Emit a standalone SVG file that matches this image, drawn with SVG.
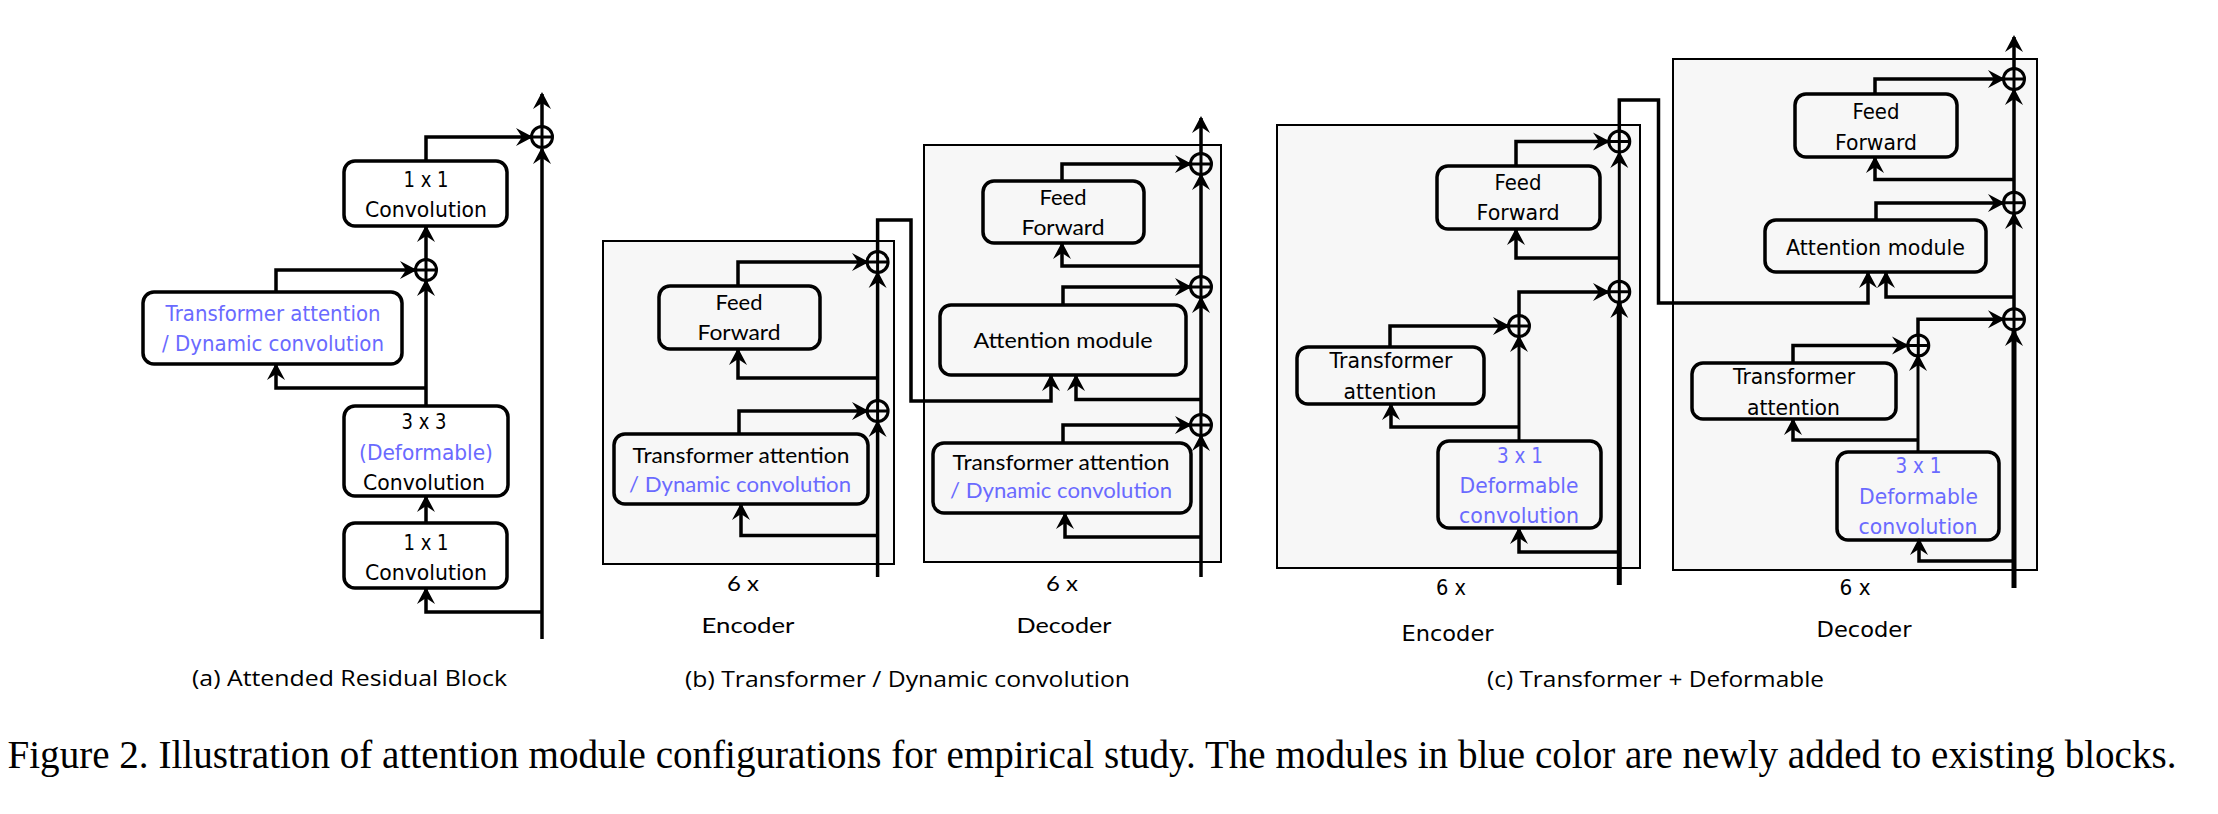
<svg xmlns="http://www.w3.org/2000/svg" width="2218" height="814" viewBox="0 0 2218 814">
<style>
.bg{fill:#fff}
.cont{fill:#f7f7f7;stroke:#000;stroke-width:2}
.nodeA{fill:#fff;stroke:#000;stroke-width:3.5}
.node{fill:none;stroke:#000;stroke-width:3.5}
.ln{fill:none;stroke:#000;stroke-width:3.5;stroke-linejoin:miter;marker-end:url(#ah)}
.thick{stroke-width:5}
.thin{stroke-width:3}
.sum{fill:none;stroke:#000;stroke-width:3}
.ta{font-family:"DejaVu Sans",Verdana,sans-serif;font-size:20.5px;text-anchor:middle;fill:#000}
.tc{font-family:"DejaVu Sans",Verdana,sans-serif;font-size:20.5px;text-anchor:middle;fill:#000}
.tb{font-family:Lato,"Liberation Sans",sans-serif;font-size:22px;text-anchor:middle;fill:#000}
.blue{fill:#6a6aff}
.cap{font-family:"Open Sans","DejaVu Sans",sans-serif;font-size:22px;fill:#000}
.fig{font-family:"Liberation Serif","Times New Roman",serif;font-size:39px;fill:#000}
</style>
<defs>
<marker id="ah" markerUnits="userSpaceOnUse" markerWidth="24" markerHeight="24" viewBox="-18 -12 22 24" refX="0" refY="0" orient="auto">
<path d="M2,0 L-15,-9 L-9,0 L-15,9 Z" fill="#000"/>
</marker>
<g id="plus"><circle cx="0" cy="0" r="10.5" class="sum"/><path d="M-10.5,0H10.5M0,-10.5V10.5" class="sum"/></g>
</defs>
<rect class="bg" x="0" y="0" width="2218" height="814"/>

<!-- containers -->
<g id="containers">
<rect class="cont" x="603" y="241" width="291" height="323"/>
<rect class="cont" x="924" y="145" width="297" height="417"/>
<rect class="cont" x="1277" y="125" width="363" height="443"/>
<rect class="cont" x="1673" y="59" width="364" height="511"/>
</g>

<!-- connectors -->
<g id="connectors">
<!-- panel a -->
<path class="ln" d="M542,639V149"/>
<path class="ln" d="M542,126V94"/>
<path class="ln" d="M542,612H426V589"/>
<path class="ln" d="M426,523V497"/>
<path class="ln" d="M426,406V281"/>
<path class="ln" d="M426,388H276V365"/>
<path class="ln" d="M276,292V270H415"/>
<path class="ln" d="M426,259.5V227"/>
<path class="ln" d="M426,161V137H531"/>
<!-- panel b encoder -->
<path class="ln" d="M877.6,577V422"/>
<path class="ln" d="M877.6,401V273"/>
<path class="ln" d="M877.6,251V220H911V401H1051V376"/>
<path class="ln" d="M877.6,378H738V350"/>
<path class="ln" d="M738,286V262H867"/>
<path class="ln" d="M877.6,535.5H741V505"/>
<path class="ln" d="M739,434V411H867"/>
<!-- panel b decoder -->
<path class="ln" d="M1201,577V436"/>
<path class="ln" d="M1201,414V298"/>
<path class="ln" d="M1201,276V175"/>
<path class="ln" d="M1201,153V118"/>
<path class="ln" d="M1201,537H1065V514"/>
<path class="ln" d="M1063,443V425H1190"/>
<path class="ln" d="M1201,399.4H1076V376"/>
<path class="ln" d="M1063,305V287H1190"/>
<path class="ln" d="M1201,266H1062V244"/>
<path class="ln" d="M1062,181V164H1190"/>
<!-- panel c encoder -->
<path class="ln thick" d="M1619.3,585V303"/>
<path class="ln thin" d="M1619.3,281V153"/>
<path class="ln" d="M1619.3,131V100H1658.5V303H1868V273"/>
<path class="ln" d="M1619.3,258H1516V230"/>
<path class="ln" d="M1516,166V141.6H1608"/>
<path class="ln" d="M1619.3,552H1519V529"/>
<path class="ln thin" d="M1519,441V337"/>
<path class="ln" d="M1519,427H1391V405"/>
<path class="ln" d="M1390,347V326H1508"/>
<path class="ln" d="M1519,315V292H1608"/>
<!-- panel c decoder -->
<path class="ln thick" d="M2014,588V331"/>
<path class="ln" d="M2014,308V214"/>
<path class="ln" d="M2014,192V90"/>
<path class="ln" d="M2014,68V37"/>
<path class="ln" d="M2014,179.5H1875V158"/>
<path class="ln" d="M1875,94V79H2003"/>
<path class="ln" d="M2014,297H1886V273"/>
<path class="ln" d="M1876,220V203H2003"/>
<path class="ln" d="M2014,561H1919V540"/>
<path class="ln thin" d="M1918,452V356"/>
<path class="ln" d="M1918,440H1793V420"/>
<path class="ln" d="M1793,363V345.4H1907"/>
<path class="ln" d="M1918,335V319.3H2003"/>
</g>

<!-- sum nodes -->
<g id="sums">
<use href="#plus" x="542" y="137"/>
<use href="#plus" x="426" y="270"/>
<use href="#plus" x="877.6" y="262"/>
<use href="#plus" x="877.6" y="411"/>
<use href="#plus" x="1201" y="164"/>
<use href="#plus" x="1201" y="287"/>
<use href="#plus" x="1201" y="425"/>
<use href="#plus" x="1619.3" y="141.6"/>
<use href="#plus" x="1619.3" y="291.8"/>
<use href="#plus" x="1519" y="326"/>
<use href="#plus" x="2014" y="79"/>
<use href="#plus" x="2014" y="202.8"/>
<use href="#plus" x="2014" y="319.3"/>
<use href="#plus" x="1918.3" y="345.4"/>
</g>

<!-- panel a nodes -->
<g id="a-conv1x1-top">
<rect class="nodeA" x="344" y="161" width="163" height="65" rx="11"/>
<text class="ta" x="426" y="187" textLength="45" lengthAdjust="spacingAndGlyphs">1 x 1</text>
<text class="ta" x="426" y="217" textLength="122" lengthAdjust="spacingAndGlyphs">Convolution</text>
</g>
<g id="a-attention">
<rect class="nodeA" x="143" y="292" width="259" height="72" rx="11"/>
<text class="ta blue" x="273" y="321" textLength="215" lengthAdjust="spacingAndGlyphs">Transformer attention</text>
<text class="ta blue" x="273" y="351" textLength="222" lengthAdjust="spacingAndGlyphs">/ Dynamic convolution</text>
</g>
<g id="a-conv3x3">
<rect class="nodeA" x="344" y="406" width="164" height="90" rx="11"/>
<text class="ta" x="424" y="429" textLength="45" lengthAdjust="spacingAndGlyphs">3 x 3</text>
<text class="ta blue" x="426" y="460" textLength="134" lengthAdjust="spacingAndGlyphs">(Deformable)</text>
<text class="ta" x="424" y="490" textLength="122" lengthAdjust="spacingAndGlyphs">Convolution</text>
</g>
<g id="a-conv1x1-bottom">
<rect class="nodeA" x="344" y="523" width="163" height="65" rx="11"/>
<text class="ta" x="426" y="550" textLength="45" lengthAdjust="spacingAndGlyphs">1 x 1</text>
<text class="ta" x="426" y="580" textLength="122" lengthAdjust="spacingAndGlyphs">Convolution</text>
</g>

<!-- panel b nodes -->
<g id="b-enc-ff">
<rect class="node" x="659" y="286" width="161" height="63" rx="11"/>
<text class="tb" x="739" y="310" textLength="47" lengthAdjust="spacingAndGlyphs">Feed</text>
<text class="tb" x="739" y="340" textLength="83" lengthAdjust="spacingAndGlyphs">Forward</text>
</g>
<g id="b-enc-attn">
<rect class="node" x="614" y="434" width="254" height="70" rx="11"/>
<text class="tb" x="741" y="463" textLength="217" lengthAdjust="spacingAndGlyphs">Transformer attention</text>
<text class="tb blue" x="740" y="492" textLength="222" lengthAdjust="spacingAndGlyphs">/ Dynamic convolution</text>
</g>
<g id="b-dec-ff">
<rect class="node" x="983" y="181" width="161" height="62" rx="11"/>
<text class="tb" x="1063" y="205" textLength="47" lengthAdjust="spacingAndGlyphs">Feed</text>
<text class="tb" x="1063" y="235" textLength="83" lengthAdjust="spacingAndGlyphs">Forward</text>
</g>
<g id="b-dec-attnmod">
<rect class="node" x="940" y="305" width="246" height="70" rx="11"/>
<text class="tb" x="1063" y="348" textLength="179" lengthAdjust="spacingAndGlyphs">Attention module</text>
</g>
<g id="b-dec-attn">
<rect class="node" x="933" y="443" width="258" height="70" rx="11"/>
<text class="tb" x="1061" y="470" textLength="217" lengthAdjust="spacingAndGlyphs">Transformer attention</text>
<text class="tb blue" x="1061" y="498" textLength="222" lengthAdjust="spacingAndGlyphs">/ Dynamic convolution</text>
</g>
<g id="b-labels">
<text class="tb" x="743" y="591" textLength="32" lengthAdjust="spacingAndGlyphs">6 x</text>
<text class="tb" x="748" y="633" textLength="93" lengthAdjust="spacingAndGlyphs">Encoder</text>
<text class="tb" x="1062" y="591" textLength="32" lengthAdjust="spacingAndGlyphs">6 x</text>
<text class="tb" x="1064" y="633" textLength="95" lengthAdjust="spacingAndGlyphs">Decoder</text>
</g>

<!-- panel c nodes -->
<g id="c-enc-ff">
<rect class="node" x="1437" y="166" width="163" height="63" rx="11"/>
<text class="tc" x="1518" y="190" textLength="47" lengthAdjust="spacingAndGlyphs">Feed</text>
<text class="tc" x="1518" y="220" textLength="83" lengthAdjust="spacingAndGlyphs">Forward</text>
</g>
<g id="c-enc-attn">
<rect class="node" x="1297" y="347" width="187" height="57" rx="11"/>
<text class="tc" x="1391" y="368" textLength="123" lengthAdjust="spacingAndGlyphs">Transformer</text>
<text class="tc" x="1390" y="399" textLength="93" lengthAdjust="spacingAndGlyphs">attention</text>
</g>
<g id="c-enc-deform">
<rect class="node" x="1438" y="441" width="163" height="87" rx="11"/>
<text class="tc blue" x="1520" y="463" textLength="46" lengthAdjust="spacingAndGlyphs">3 x 1</text>
<text class="tc blue" x="1519" y="493" textLength="119" lengthAdjust="spacingAndGlyphs">Deformable</text>
<text class="tc blue" x="1519" y="523" textLength="120" lengthAdjust="spacingAndGlyphs">convolution</text>
</g>
<g id="c-dec-ff">
<rect class="node" x="1795" y="94" width="162" height="63" rx="11"/>
<text class="tc" x="1876" y="119" textLength="47" lengthAdjust="spacingAndGlyphs">Feed</text>
<text class="tc" x="1876" y="150" textLength="82" lengthAdjust="spacingAndGlyphs">Forward</text>
</g>
<g id="c-dec-attnmod">
<rect class="node" x="1765" y="220" width="221" height="52" rx="11"/>
<text class="tc" x="1875.5" y="255" textLength="179" lengthAdjust="spacingAndGlyphs">Attention module</text>
</g>
<g id="c-dec-attn">
<rect class="node" x="1692" y="363" width="204" height="56" rx="11"/>
<text class="tc" x="1794" y="384" textLength="122" lengthAdjust="spacingAndGlyphs">Transformer</text>
<text class="tc" x="1793.5" y="415" textLength="93" lengthAdjust="spacingAndGlyphs">attention</text>
</g>
<g id="c-dec-deform">
<rect class="node" x="1837" y="452" width="162" height="88" rx="11"/>
<text class="tc blue" x="1918.5" y="473" textLength="46" lengthAdjust="spacingAndGlyphs">3 x 1</text>
<text class="tc blue" x="1918.5" y="504" textLength="119" lengthAdjust="spacingAndGlyphs">Deformable</text>
<text class="tc blue" x="1918" y="534" textLength="119" lengthAdjust="spacingAndGlyphs">convolution</text>
</g>
<g id="c-labels">
<text class="tc" x="1451" y="594.5" textLength="30" lengthAdjust="spacingAndGlyphs">6 x</text>
<text class="tc" x="1447.5" y="640.5" textLength="92" lengthAdjust="spacingAndGlyphs">Encoder</text>
<text class="tc" x="1855" y="594.5" textLength="31" lengthAdjust="spacingAndGlyphs">6 x</text>
<text class="tc" x="1864" y="637" textLength="95" lengthAdjust="spacingAndGlyphs">Decoder</text>
</g>

<!-- captions -->
<g id="captions">
<text class="cap" x="192" y="686" textLength="315" lengthAdjust="spacingAndGlyphs">(a) Attended Residual Block</text>
<text class="cap" x="685" y="686.5" textLength="445" lengthAdjust="spacingAndGlyphs">(b) Transformer / Dynamic convolution</text>
<text class="cap" x="1487" y="686.5" textLength="337" lengthAdjust="spacingAndGlyphs">(c) Transformer + Deformable</text>
<text class="fig" x="7.5" y="768" textLength="2169" lengthAdjust="spacingAndGlyphs">Figure 2. Illustration of attention module configurations for empirical study. The modules in blue color are newly added to existing blocks.</text>
</g>
</svg>
